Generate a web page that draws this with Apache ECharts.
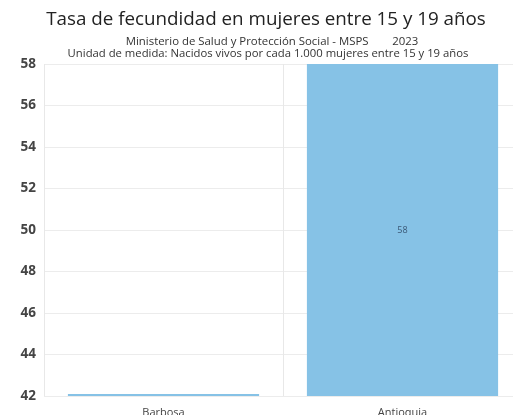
<!DOCTYPE html>
<html>
<head>
<meta charset="utf-8">
<script src="https://cdn.jsdelivr.net/npm/echarts@6/dist/echarts.min.js"></script>
<style>
  html, body { margin: 0; padding: 0; background: #fff; }
  #chart { width: 513px; height: 415px; }
</style>
</head>
<body>
<div id="chart"></div>
<script>
var municipios = ["Barbosa", "Antioquia"];
var tasa = [42.1, 58];
var yTicks = [42, 44, 46, 48, 50, 52, 54, 56, 58];

echarts.init(document.querySelector("#chart")).setOption({
  animation: false,
  textStyle: { fontFamily: "Open Sans" },
  title: [{
    text: "Tasa de fecundidad en mujeres entre 15 y 19 años",
    left: 261,
    top: 5,
    textAlign: "center",
    textStyle: { fontSize: 18.8, fontWeight: "normal", color: "#222" }
  }, {
    text: "Ministerio de Salud y Protección Social - MSPS        2023",
    left: 267,
    top: 31,
    textAlign: "center",
    textStyle: { fontSize: 11.4, fontWeight: "normal", color: "#333" }
  }, {
    text: "Unidad de medida: Nacidos vivos por cada 1.000 mujeres entre 15 y 19 años",
    left: 263,
    top: 43,
    textAlign: "center",
    textStyle: { fontSize: 11.3, fontWeight: "normal", color: "#333" }
  }],
  grid: { left: 44, top: 64, width: 478, height: 332, outerBoundsMode: "none", containLabel: false },
  xAxis: {
    type: "category",
    data: municipios,
    axisLine: { show: false },
    axisTick: { show: false },
    axisLabel: { margin: 11, fontSize: 11, color: "#444" },
    splitLine: { show: true, lineStyle: { color: "#e8e8e8" } }
  },
  yAxis: {
    type: "value",
    min: yTicks[0],
    max: yTicks[yTicks.length - 1],
    interval: 2,
    axisLine: { show: false },
    axisTick: { show: false },
    axisLabel: { margin: 8, fontSize: 13.5, fontWeight: "bold", color: "#444" },
    splitLine: { lineStyle: { color: "#ececec" } }
  },
  series: [{
    type: "bar",
    data: tasa,
    barCategoryGap: "20%",
    itemStyle: { color: "#86c2e6" },
    label: {
      show: true,
      position: "inside",
      fontSize: 9,
      color: "#3b5876",
      formatter: function (p) { return p.dataIndex === 0 ? "" : p.value; }
    }
  }]
});
</script>
</body>
</html>
